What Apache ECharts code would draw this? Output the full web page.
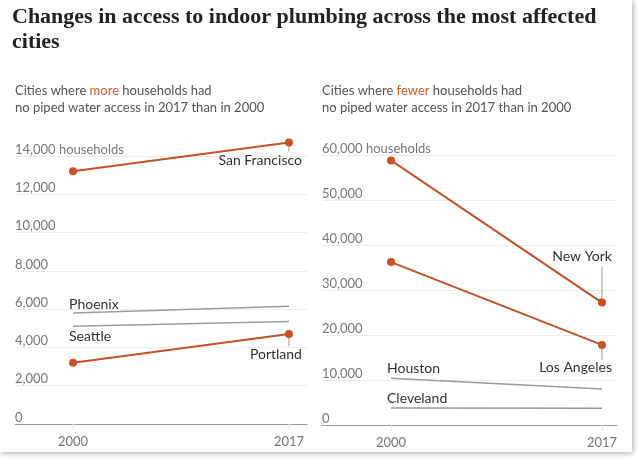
<!DOCTYPE html>
<html>
<head>
<meta charset="utf-8">
<script src="https://cdn.jsdelivr.net/npm/echarts@6/dist/echarts.min.js"></script>
<style>html,body{margin:0;padding:0;background:#fff}#c{width:640px;height:464px}</style>
</head>
<body>
<div id="c"></div>
<script>
const years = [2000, 2017];
const sanFrancisco = [13200, 14700];
const portland = [3200, 4700];
const phoenix = [5800, 6150];
const seattle = [5100, 5350];
const newYork = [58800, 27200];
const losAngeles = [36200, 17800];
const houston = [10400, 8000];
const cleveland = [3800, 3700];
const leftTicks = [0, 2000, 4000, 6000, 8000, 10000, 12000, 14000];
const rightTicks = [0, 10000, 20000, 30000, 40000, 50000, 60000];

const ORANGE = '#c4522a';
const GRAY = '#9a9a9a';
const SANS = 'Lato, "Noto Sans", sans-serif';
const pts = arr => years.map((y, i) => [y, arr[i]]);
const fmt = v => v.toLocaleString('en-US');

const chart = echarts.init(document.getElementById('c'), null, {renderer: 'canvas'});

function labelled(idx, label) {
  return (arr) => arr.map((p, i) => i === idx ? {value: p, label: Object.assign({show: true}, label)} : {value: p, label: {show: false}});
}
const lblStyle = {color: '#333', fontFamily: SANS, fontSize: 14, fontWeight: 'normal', formatter: '{a}'};

function orangeSeries(name, arr, g, idx, label) {
  return {
    name, type: 'line', xAxisIndex: g, yAxisIndex: g, clip: false,
    data: labelled(idx, Object.assign({}, lblStyle, label))(pts(arr)),
    symbol: 'circle', symbolSize: 8,
    lineStyle: {color: ORANGE, width: 2}, itemStyle: {color: '#cf4f27'},
    label: {show: false}, silent: true, z: 5
  };
}
function graySeries(name, arr, g, label) {
  return {
    name, type: 'line', xAxisIndex: g, yAxisIndex: g, clip: false,
    data: labelled(0, Object.assign({}, lblStyle, label))(pts(arr)),
    symbol: 'circle', symbolSize: 1,
    lineStyle: {color: GRAY, width: 1.5}, itemStyle: {color: 'rgba(0,0,0,0)'},
    label: {show: false}, silent: true, z: 4
  };
}

function yAxis(g, max, interval) {
  return {
    type: 'value', gridIndex: g, min: 0, max, interval,
    axisLine: {show: false}, axisTick: {show: false},
    splitLine: {lineStyle: {color: '#ececec', width: 1}},
    axisLabel: {
      inside: true, margin: 0, align: 'left', verticalAlign: 'bottom',
      padding: [0, 0, 0, 0],
      color: '#777', fontFamily: SANS, fontSize: 13,
      formatter: v => v === max ? fmt(v) + ' households' : fmt(v)
    }
  };
}
function xAxis(g, min, max) {
  return {
    type: 'value', gridIndex: g, min, max,
    splitLine: {show: false},
    axisLine: {lineStyle: {color: '#999', width: 1}},
    axisTick: {show: true, customValues: years, length: 6, lineStyle: {color: '#e4e4e4'}},
    axisLabel: {customValues: years, formatter: v => String(v), color: '#777', fontFamily: SANS, fontSize: 13, margin: 11}
  };
}

const subRich = {
  a: {fontFamily: SANS, fontSize: 13, lineHeight: 17, color: '#555', fontWeight: 'normal'},
  o: {fontFamily: SANS, fontSize: 13, lineHeight: 17, color: '#c8602d', fontWeight: 'normal'}
};

const option = {
  backgroundColor: 'transparent',
  animation: false,
  title: [
    {
      text: 'Changes in access to indoor plumbing across the most affected\ncities',
      left: 12, top: 5, padding: 0,
      textStyle: {fontFamily: '"Liberation Serif", serif', fontWeight: 'bold', fontSize: 22, lineHeight: 25, color: '#222'}
    },
    {
      text: '{a|Cities where }{o|more}{a| households had}\n{a|no piped water access in 2017 than in 2000}',
      left: 15, top: 82, padding: 0,
      textStyle: {fontWeight: 'normal', rich: subRich}
    },
    {
      text: '{a|Cities where }{o|fewer}{a| households had}\n{a|no piped water access in 2017 than in 2000}',
      left: 322, top: 82, padding: 0,
      textStyle: {fontWeight: 'normal', rich: subRich}
    }
  ],
  graphic: [{
    type: 'rect', z: -10, silent: true,
    shape: {x: 0, y: 0, width: 632, height: 452},
    style: {fill: '#fff', shadowBlur: 6, shadowColor: 'rgba(0,0,0,0.35)', shadowOffsetX: 1, shadowOffsetY: 1}
  }],
  grid: [
    {left: 15, right: 333, top: 156, height: 268},
    {left: 322, right: 23, top: 155, height: 270}
  ],
  xAxis: [xAxis(0, 1995.43, 2018.42), xAxis(1, 1994.44, 2018.21)],
  yAxis: [yAxis(0, 14000, 2000), yAxis(1, 60000, 10000)],
  series: [
    graySeries('Phoenix', phoenix, 0, {position: 'top', align: 'left', distance: 1, offset: [-4, 0]}),
    graySeries('Seattle', seattle, 0, {position: 'bottom', align: 'left', distance: 3, offset: [-4, 0]}),
    orangeSeries('San Francisco', sanFrancisco, 0, 1, {position: 'bottom', align: 'right', distance: 7, offset: [13, 0]}),
    orangeSeries('Portland', portland, 0, 1, {position: 'bottom', align: 'right', distance: 9, offset: [13, 0]}),
    graySeries('Houston', houston, 1, {position: 'top', align: 'left', distance: 2, offset: [-4, 0]}),
    graySeries('Cleveland', cleveland, 1, {position: 'top', align: 'left', distance: 2, offset: [-4, 0]}),
    orangeSeries('New York', newYork, 1, 1, {position: 'top', align: 'right', distance: 35, offset: [10, 0]}),
    orangeSeries('Los Angeles', losAngeles, 1, 1, {position: 'bottom', align: 'right', distance: 12, offset: [10, 0]})
  ]
};
chart.setOption(option);

// leader lines from labelled points to their labels
const leaders = [
  {g: 0, arr: sanFrancisco, dir: 1, len: 9},
  {g: 0, arr: portland, dir: 1, len: 12},
  {g: 1, arr: newYork, dir: -1, len: 36},
  {g: 1, arr: losAngeles, dir: 1, len: 15}
];
const lines = leaders.map(l => {
  const p = chart.convertToPixel({gridIndex: l.g}, [years[1], l.arr[1]]);
  return {type: 'line', z: 3, silent: true,
    shape: {x1: p[0], y1: p[1], x2: p[0], y2: p[1] + l.dir * l.len},
    style: {stroke: '#999', lineWidth: 1}};
});
chart.setOption({graphic: option.graphic.concat(lines)});
</script>
</body>
</html>
